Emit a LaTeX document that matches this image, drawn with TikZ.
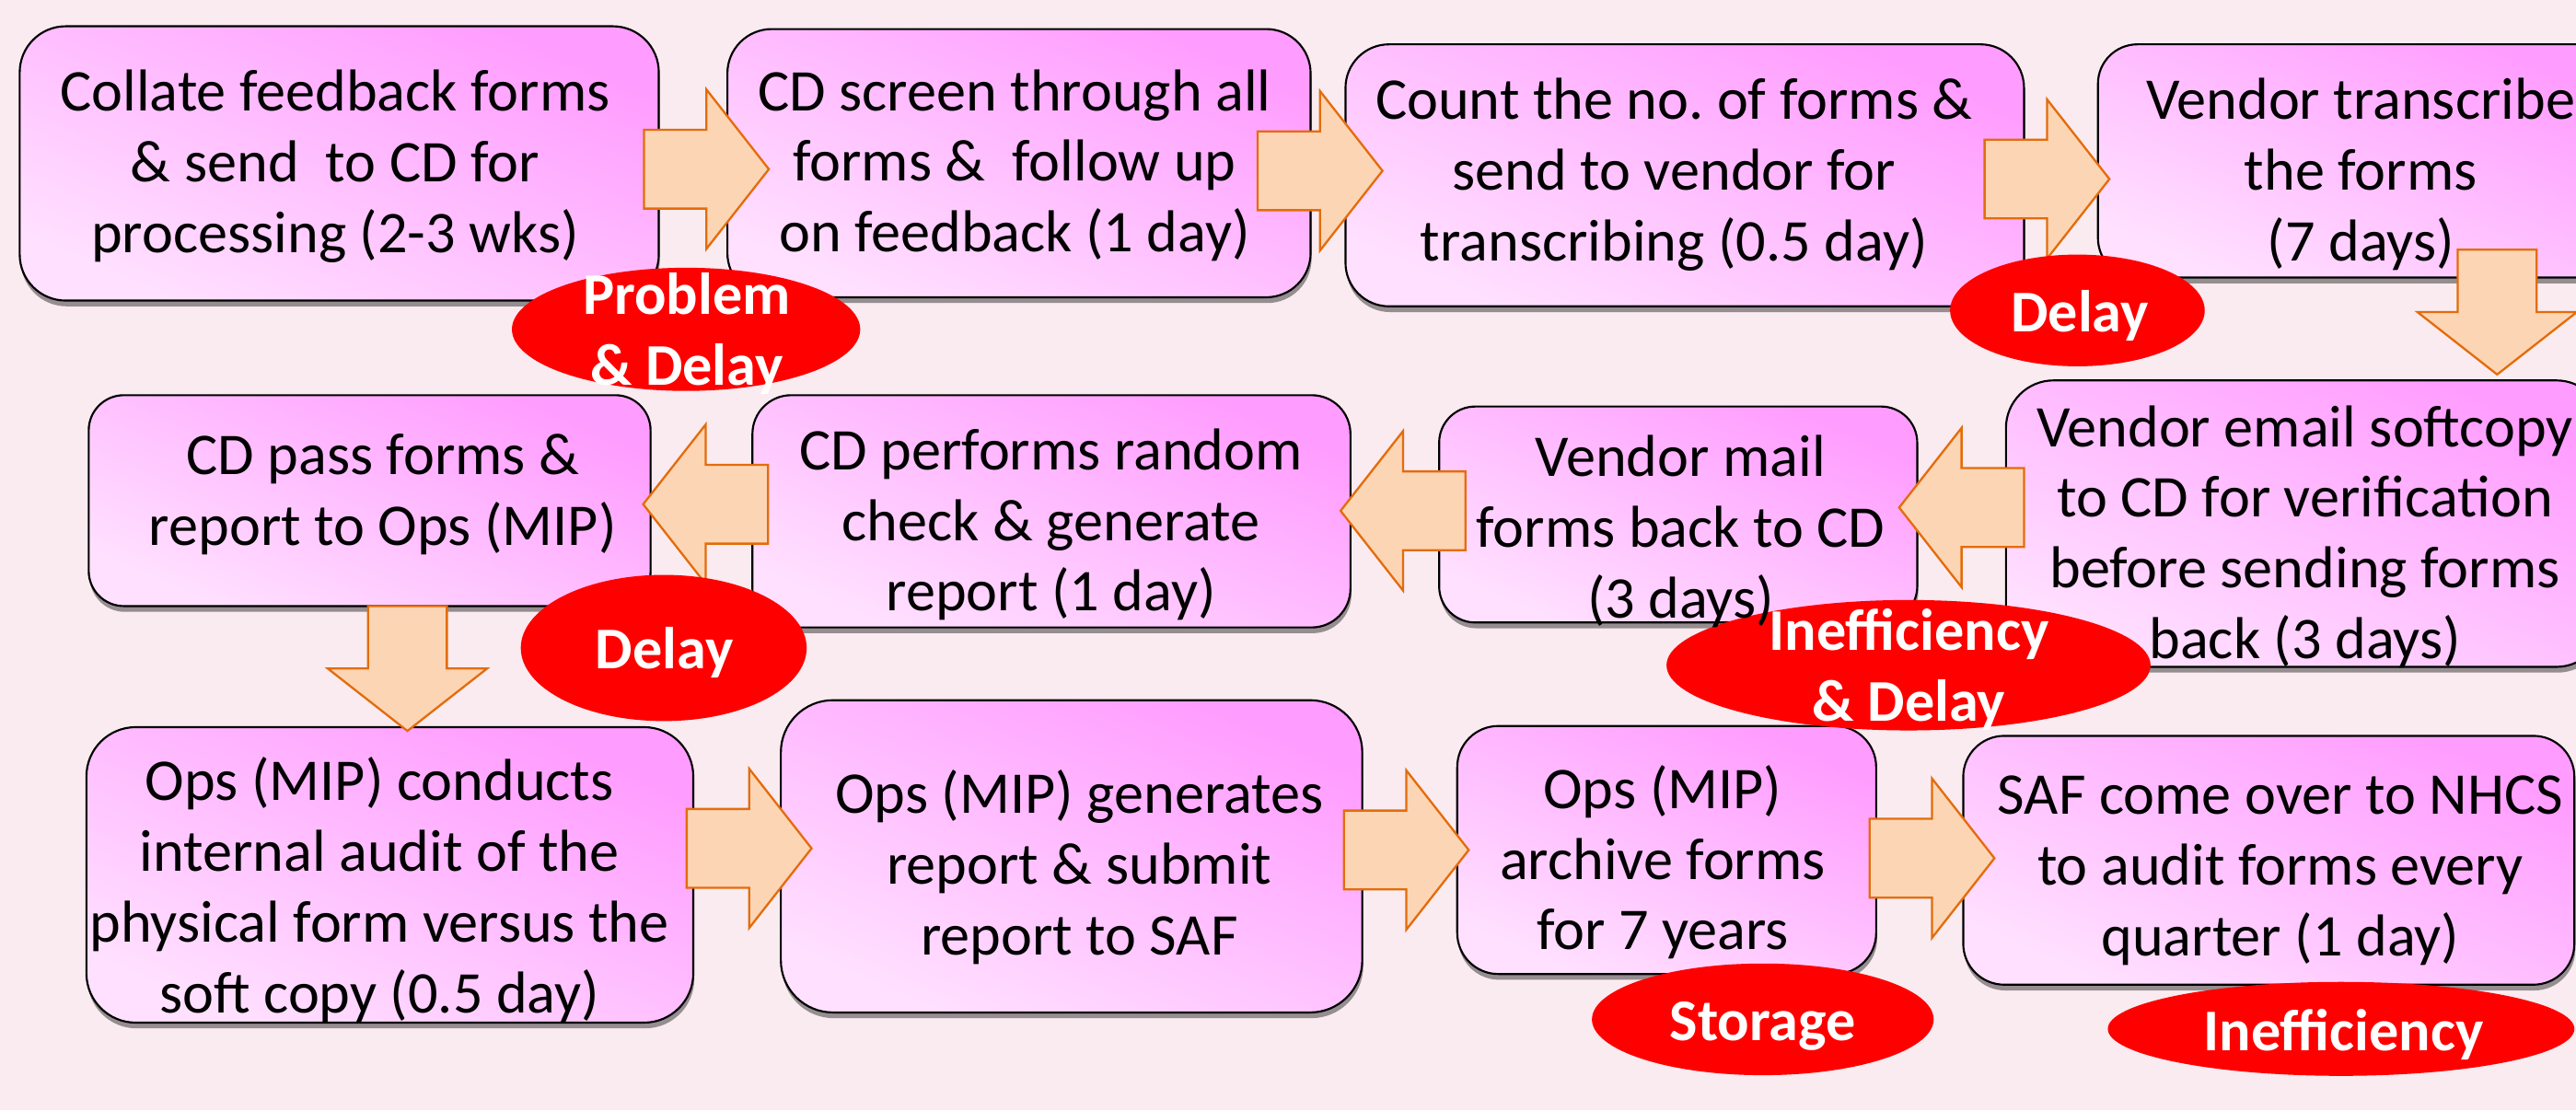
\documentclass[tikz,border=0pt]{standalone}
\usepackage{fontspec}
\setmainfont{Carlito}
\usetikzlibrary{shapes.geometric,shadows}
\definecolor{bgc}{RGB}{249,235,240}
\definecolor{boxTR}{RGB}{255,156,255}
\definecolor{boxBL}{RGB}{255,224,255}
\definecolor{arrFill}{RGB}{252,213,181}
\definecolor{arrLine}{RGB}{228,108,10}
\definecolor{flagRed}{RGB}{255,0,0}
\tikzset{
  procbox/.style={rectangle, draw=black, line width=1.2pt, inner sep=0pt,
    top color=boxTR, bottom color=boxBL, shading angle=-24,
    drop shadow={shadow xshift=0.6pt, shadow yshift=-3.5pt, opacity=0.4, fill=black}},
  boxtext/.style={inner sep=0pt, align=center, yshift=-2pt, font=\fontsize{36pt}{43pt}\selectfont, text=black},
  flag/.style={ellipse, fill=flagRed, draw=none, inner sep=0pt},
  flagtext/.style={inner sep=0pt, align=center, yshift=-1pt, font=\fontsize{36pt}{43pt}\selectfont\bfseries, text=white},
  blockarrow/.style={fill=arrFill, draw=arrLine, line width=1.3pt, line join=miter},
}
\newcommand\barrow[4]{%
  \coordinate (#1) at (#2,#3);
  \draw[blockarrow, shift={(#1)}, rotate=#4]
    (0,-24) -- (38,-24) -- (38,-48.5) -- (76,0) -- (38,48.5) -- (38,24) -- (0,24) -- cycle;}
\begin{document}
\frenchspacing
\begin{tikzpicture}[x=1pt, y=-1pt]
\useasboundingbox (0,0) rectangle (1568,676);
\clip (0,0) rectangle (1568,676);
\fill[bgc] (0,0) rectangle (1568,676);

% process boxes
\node[procbox, rounded corners=28pt, minimum width=389pt, minimum height=167pt] (b1) at (206.5,99.5) {};
\node[procbox, rounded corners=27pt, minimum width=355pt, minimum height=163.3pt] (b2) at (620.25,99.35) {};
\node[procbox, rounded corners=26.5pt, minimum width=413pt, minimum height=159.5pt] (b3) at (1025.5,106.75) {};
\node[procbox, rounded corners=24pt, minimum width=320pt, minimum height=142pt] (b4) at (1437,98) {};
\node[procbox, rounded corners=29pt, minimum width=364pt, minimum height=174.4pt] (b5) at (1403,318.8) {};
\node[procbox, rounded corners=22pt, minimum width=291pt, minimum height=131.5pt] (b6) at (1021.5,313.25) {};
\node[procbox, rounded corners=23.6pt, minimum width=364pt, minimum height=141.4pt] (b7) at (640,311.3) {};
\node[procbox, rounded corners=21.4pt, minimum width=342pt, minimum height=128.4pt] (b8) at (225,304.8) {};
\node[procbox, rounded corners=30pt, minimum width=369.4pt, minimum height=179.9pt] (b9) at (237.3,532.65) {};
\node[procbox, rounded corners=31.7pt, minimum width=353.9pt, minimum height=190.1pt] (b10) at (652.25,521.35) {};
\node[procbox, rounded corners=25pt, minimum width=255pt, minimum height=151pt] (b11) at (1014.5,517.5) {};
\node[procbox, rounded corners=25pt, minimum width=372pt, minimum height=151.5pt] (b12) at (1381,523.75) {};

% block arrows
\barrow{a1}{392}{103}{0}
\barrow{a2}{765.5}{104}{0}
\barrow{a3}{1208}{109}{0}
\barrow{a4}{1520}{152}{-90}
\barrow{a5}{1232}{309}{180}
\barrow{a6}{892}{311}{180}
\barrow{a7}{467.5}{307}{180}
\barrow{a8}{248}{369}{-90}
\barrow{a9}{418}{516.5}{0}
\barrow{a10}{818}{517.5}{0}
\barrow{a11}{1138}{522.5}{0}

% red flags
\node[flag, minimum width=212pt, minimum height=75pt] (e1) at (417.6,200.5) {};
\node[flag, minimum width=155pt, minimum height=68pt] (e2) at (1264.5,189) {};
\node[flag, minimum width=174pt, minimum height=89pt] (e3) at (404,394.5) {};
\node[flag, minimum width=294.6pt, minimum height=79.4pt] (e4) at (1161.7,405) {};
\node[flag, minimum width=208pt, minimum height=68pt] (e5) at (1073,620.6) {};
\node[flag, minimum width=284pt, minimum height=57.2pt] (e6) at (1425,626.4) {};

\node[flagtext] (l1) at (418,203.4) {\strut Problem\\\& Delay\strut};
\node[flagtext] (l2) at (1266,192.2) {\strut Delay\strut};
\node[flagtext] (l3) at (404.4,397.7) {\strut Delay\strut};
\node[flagtext] (l4) at (1162,407.9) {\strut Inefficiency\\\& Delay\strut};
\node[flagtext] (l5) at (1073,623.7) {\strut Storage\strut};
\node[flagtext] (l6) at (1426.5,629.9) {\strut Inefficiency\strut};

% box texts
\node[boxtext] (t1) at (204,100) {\strut Collate feedback forms\\\& send~ to CD for\\processing (2-3 wks)\strut};
\node[boxtext] (t2) at (617.6,99.7) {\strut CD screen through all\\forms \&~ follow up\\on feedback (1 day)\strut};
\node[boxtext] (t3) at (1019,105) {\strut Count the no. of forms \&\\send to vendor for\\transcribing (0.5 day)\strut};
\node[boxtext] (t4) at (1437,105.1) {\strut Vendor transcribe\\the forms\\(7 days)\strut};
\node[boxtext] (t5) at (1403,325.8) {\strut Vendor email softcopy\\to CD for verification\\before sending forms\\back (3 days)\strut};
\node[boxtext] (t6) at (1023,322.5) {\strut Vendor mail\\forms back to CD\\(3 days)\strut};
\node[boxtext] (t7) at (639.7,318.4) {\strut CD performs random\\check \& generate\\report (1 day)\strut};
\node[boxtext] (t8) at (233,299.8) {\strut CD pass forms \&\\report to Ops (MIP)\strut};
\node[boxtext] (t9) at (231,541.4) {\strut Ops (MIP) conducts\\internal audit of the\\physical form versus the\\soft copy (0.5 day)\strut};
\node[boxtext] (t10) at (657,527.7) {\strut Ops (MIP) generates\\report \& submit\\report to SAF\strut};
\node[boxtext] (t11) at (1012,524.6) {\strut Ops (MIP)\\archive forms\\for 7 years\strut};
\node[boxtext] (t12) at (1388,528.2) {\strut SAF come over to NHCS\\to audit forms every\\quarter (1 day)\strut};
\end{tikzpicture}
\end{document}
